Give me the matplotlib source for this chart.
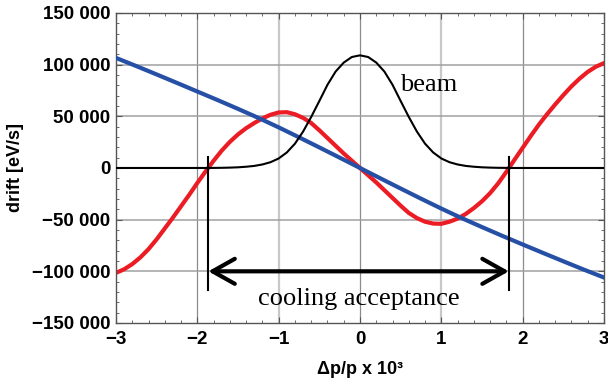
import matplotlib
matplotlib.use('Agg')
import matplotlib.pyplot as plt
from matplotlib.ticker import MultipleLocator

# values (step 0.1 in dp/p)
x_fine = [-3.0, -2.9, -2.8, -2.7, -2.6, -2.5, -2.4, -2.3, -2.2, -2.1,
          -2.0, -1.9, -1.8, -1.7, -1.6, -1.5, -1.4, -1.3, -1.2, -1.1,
          -1.0, -0.9, -0.8, -0.7, -0.6, -0.5, -0.4, -0.3, -0.2, -0.1,
          0.0, 0.1, 0.2, 0.3, 0.4, 0.5, 0.6, 0.7, 0.8, 0.9,
          1.0, 1.1, 1.2, 1.3, 1.4, 1.5, 1.6, 1.7, 1.8, 1.9,
          2.0, 2.1, 2.2, 2.3, 2.4, 2.5, 2.6, 2.7, 2.8, 2.9, 3.0]
drift_red = [-101500, -98000, -93000, -86500, -78500, -69000, -58500, -48000, -37000, -26000,
             -14500, -3500, 7000, 16800, 25300, 32500, 38500, 43500, 48000, 51500,
             53700, 54000, 52000, 48500, 43500, 36500, 29000, 21500, 14000, 7000,
             0, -7000, -14000, -21500, -29000, -36500, -43500, -48500, -52000, -53800,
             -54000, -52000, -49000, -44500, -38800, -32200, -24300, -14800, -3700, 8000,
             19500, 31000, 42000, 52000, 61500, 70500, 79000, 86500, 93000, 98000, 101500]
beam = [0, 0, 0, 0, 0, 0, 0, 0, 0, 0,
        0, 0, 80, 170, 350, 650, 1200, 2000, 3400, 5600,
        9200, 15000, 23500, 35200, 49400, 64800, 80500, 93300, 102000, 107400,
        109000, 107400, 102000, 93300, 80500, 64800, 49400, 35200, 23500, 15000,
        9200, 5600, 3400, 2000, 1200, 650, 350, 170, 80, 0,
        0, 0, 0, 0, 0, 0, 0, 0, 0, 0, 0]

x_blue = [-3.0, -2.75, -2.5, -2.25, -2.0, -1.75, -1.5, -1.25, -1.0, -0.75, -0.5, -0.25, 0.0,
          0.25, 0.5, 0.75, 1.0, 1.25, 1.5, 1.75, 2.0, 2.25, 2.5, 2.75, 3.0]
drift_blue = [106500, 98600, 90500, 82300, 74000, 65700, 57200, 48500, 39300, 29700, 19900, 10000, 0,
              -10000, -19900, -29700, -39300, -48500, -57200, -65700, -74000, -82200, -90300, -98300, -106000]

acc_left, acc_right = -1.865, 1.83
arrow_level = -100000
marker_top, marker_bottom = 11000, -118000

xticks = [-3, -2, -1, 0, 1, 2, 3]
xtick_labels = ['\u22123', '\u22122', '\u22121', '0', '1', '2', '3']
yticks = [-150000, -100000, -50000, 0, 50000, 100000, 150000]
ytick_labels = ['\u2212150 000', '\u2212100 000', '\u221250 000', '0', '50 000', '100 000', '150 000']

plt.rcParams['font.family'] = ['Liberation Sans', 'DejaVu Sans']

fig = plt.figure(figsize=(6.08, 3.84), dpi=100)
ax = fig.add_axes([0.1908, 0.1589, 0.8026, 0.8073])

# grid
for gx in [-2, 0, 2]:
    ax.axvline(gx, color='#8c8c8c', lw=0.9, zorder=0)
for gx in [-1, 1]:
    ax.axvline(gx, color='#c8c8c8', lw=1.6, zorder=0)
for gy in [-100000, -50000, 50000, 100000]:
    ax.axhline(gy, color='#a0a0a0', lw=1.1, zorder=0)

ax.plot(x_fine, drift_red, color='#ec1c24', lw=3.0, zorder=2)
ax.plot(x_blue, drift_blue, color='#2650a6', lw=3.0, zorder=3)
ax.plot(x_fine, beam, color='black', lw=1.5, zorder=4)

# acceptance markers and arrow
ax.plot([acc_left, acc_left], [marker_top, marker_bottom], color='black', lw=1.5, zorder=5)
ax.plot([acc_right, acc_right], [marker_top, marker_bottom], color='black', lw=1.5, zorder=5)
ax.annotate('', xy=(acc_left, arrow_level), xytext=(acc_right, arrow_level),
            arrowprops=dict(arrowstyle='<->,head_length=0.8,head_width=0.45',
                            lw=3, color='black', mutation_scale=20,
                            shrinkA=0, shrinkB=0), zorder=6)

ax.text(0.84, 80000, 'beam', fontsize=19, family='Liberation Serif', ha='center', va='center', zorder=6)
ax.text(-0.02, -127000, 'cooling acceptance', fontsize=19, family='Liberation Serif',
        ha='center', va='center', zorder=6)

ax.set_xlim(-3, 3)
ax.set_ylim(-150000, 150000)
ax.set_xticks(xticks)
ax.set_xticklabels(xtick_labels)
ax.set_yticks(yticks)
ax.set_yticklabels(ytick_labels)
ax.xaxis.set_minor_locator(MultipleLocator(0.2))
ax.yaxis.set_minor_locator(MultipleLocator(10000))
ax.tick_params(which='both', direction='in', top=True, right=True, color='#555555')
ax.tick_params(which='major', length=4.5, width=0.8)
ax.tick_params(which='minor', length=2.5, width=0.6)
ax.tick_params(axis='x', which='major', pad=6, labelsize=13.5)
ax.tick_params(axis='y', which='major', pad=4, labelsize=13.5)
for lab in ax.get_xticklabels() + ax.get_yticklabels():
    lab.set_fontweight('bold')
for sp in ax.spines.values():
    sp.set_color('#555555')
    sp.set_linewidth(1.0)

ax.set_xlabel('\u0394p/p x 10\u00b3', fontsize=13, fontweight='bold', labelpad=9)
ax.set_ylabel('drift [eV/s]', fontsize=13, fontweight='bold', labelpad=6)

fig.savefig('out.png', dpi=100)
